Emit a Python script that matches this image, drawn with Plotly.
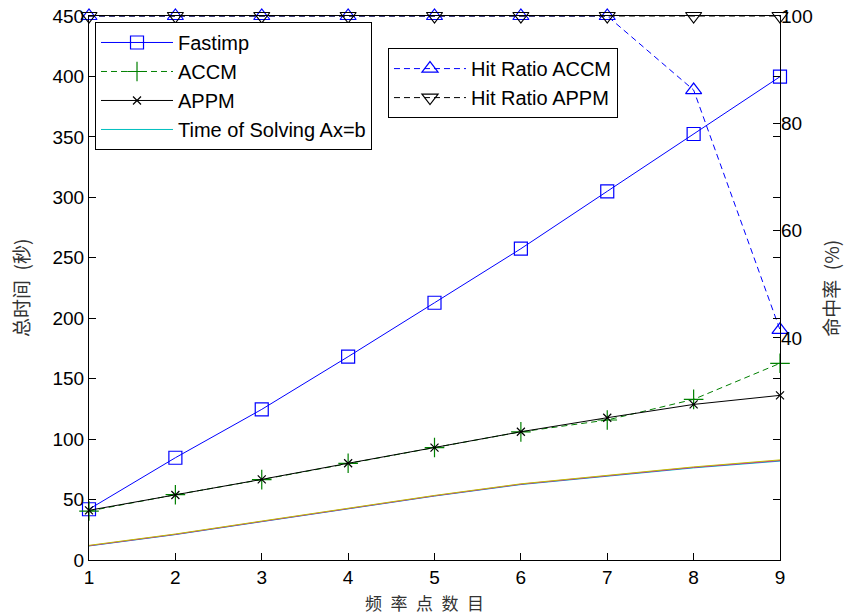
import plotly.graph_objects as go

# ---- data ----
freq_points = [1, 2, 3, 4, 5, 6, 7, 8, 9]
fastimp = [42.0, 84.6, 124.6, 168.2, 212.8, 257.5, 305.0, 352.4, 399.8]
accm = [40.5, 54.0, 66.5, 80.0, 93.0, 106.0, 115.8, 132.9, 162.7]
appm = [41.1, 53.8, 66.7, 80.0, 93.0, 106.1, 117.7, 128.7, 136.2]
time_solve_c = [11.6, 21.0, 31.7, 42.0, 52.9, 62.4, 69.6, 76.2, 81.8]
time_solve_m = [11.8, 21.2, 31.9, 42.2, 53.1, 62.7, 69.9, 76.6, 82.3]
time_solve_y = [12.1, 21.5, 32.2, 42.5, 53.4, 63.0, 70.3, 77.0, 82.8]
hit_accm = [100, 100, 100, 100, 100, 100, 100, 86.2, 41.5]
hit_appm = [100, 100, 100, 100, 100, 100, 100, 100, 100]

left_ticks = [0, 50, 100, 150, 200, 250, 300, 350, 400, 450]
right_ticks = [40, 60, 80, 100]

FONT = "Liberation Sans, Arial, sans-serif"
CJK = "Noto Sans CJK SC, sans-serif"
DASH = "6px,4px"
SP = "\u2002"

fig = go.Figure()

fig.add_trace(go.Scatter(
    x=freq_points, y=fastimp, name="Fastimp", mode="lines+markers",
    line=dict(color="rgb(0,0,255)", width=1),
    marker=dict(symbol="square-open", size=13, color="rgb(0,0,255)", line=dict(width=1.2)),
    legend="legend", cliponaxis=False))
fig.add_trace(go.Scatter(
    x=freq_points, y=accm, name="ACCM", mode="lines+markers",
    line=dict(color="rgb(0,128,0)", width=1, dash=DASH),
    marker=dict(symbol="cross-thin-open", size=14, color="rgb(0,128,0)", line=dict(width=1.2, color="rgb(0,128,0)")),
    legend="legend", cliponaxis=False))
fig.add_trace(go.Scatter(
    x=freq_points, y=appm, name="APPM", mode="lines+markers",
    line=dict(color="black", width=1),
    marker=dict(symbol="x-thin-open", size=8, color="black", line=dict(width=1.2, color="black")),
    legend="legend", cliponaxis=False))
fig.add_trace(go.Scatter(
    x=freq_points, y=time_solve_c, name="Time of Solving Ax=b", mode="lines",
    line=dict(color="rgb(0,191,191)", width=1),
    legend="legend"))
fig.add_trace(go.Scatter(
    x=freq_points, y=time_solve_m, name="m", mode="lines", showlegend=False,
    line=dict(color="rgb(191,0,191)", width=1)))
fig.add_trace(go.Scatter(
    x=freq_points, y=time_solve_y, name="y", mode="lines", showlegend=False,
    line=dict(color="rgb(191,191,0)", width=1)))

fig.add_trace(go.Scatter(
    x=freq_points, y=hit_accm, name="Hit Ratio ACCM", mode="lines+markers", yaxis="y2",
    line=dict(color="rgb(0,0,255)", width=1, dash=DASH),
    marker=dict(symbol="triangle-up-open", size=14, color="rgb(0,0,255)", line=dict(width=1.2)),
    legend="legend2", cliponaxis=False))
fig.add_trace(go.Scatter(
    x=freq_points, y=hit_appm, name="Hit Ratio APPM", mode="lines+markers", yaxis="y2",
    line=dict(color="black", width=1, dash=DASH),
    marker=dict(symbol="triangle-down-open", size=14, color="black", line=dict(width=1.2)),
    legend="legend2", cliponaxis=False))

axis_common = dict(showgrid=False, zeroline=False, linecolor="black", linewidth=1,
                   ticks="inside", ticklen=7, tickcolor="black", tickwidth=1,
                   tickfont=dict(family=FONT, size=19, color="black"))

legend_common = dict(xanchor="left", yanchor="top", bgcolor="white",
                     bordercolor="black", borderwidth=1, itemwidth=72,
                     font=dict(family=FONT, size=20, color="black"), tracegroupgap=0)

fig.update_layout(
    width=844, height=616,
    margin=dict(l=89, r=64, t=16, b=56, autoexpand=False),
    paper_bgcolor="white", plot_bgcolor="white",
    showlegend=True,
    xaxis=dict(range=[1, 9], tickvals=freq_points, mirror=True, showline=True, **axis_common),
    yaxis=dict(range=[0, 450], tickvals=left_ticks, mirror="ticks", showline=True, **axis_common),
    yaxis2=dict(range=[-1.4, 100], tickvals=right_ticks, overlaying="y", side="right",
                showline=False, anchor="x", **axis_common),
    legend=dict(x=0.0087, y=0.989, **legend_common),
    legend2=dict(x=0.4327, y=0.941, **legend_common),
    annotations=[
        dict(text=SP.join("频率点数目"), xref="paper", yref="paper", x=0.485, y=-0.079,
             xanchor="center", yanchor="middle", showarrow=False,
             font=dict(family=CJK, size=17, color="#333")),
        dict(text="总时间" + SP + "(秒)", xref="paper", x=-0.1, y=0.5, yref="paper", textangle=-90,
             xanchor="center", yanchor="middle", showarrow=False,
             font=dict(family=CJK, size=19, color="#333")),
        dict(text="命中率" + SP + "(%)", xref="paper", x=1.072, y=0.5, yref="paper", textangle=-90,
             xanchor="center", yanchor="middle", showarrow=False,
             font=dict(family=CJK, size=19, color="#333")),
    ],
)

fig.write_html("out.html")
